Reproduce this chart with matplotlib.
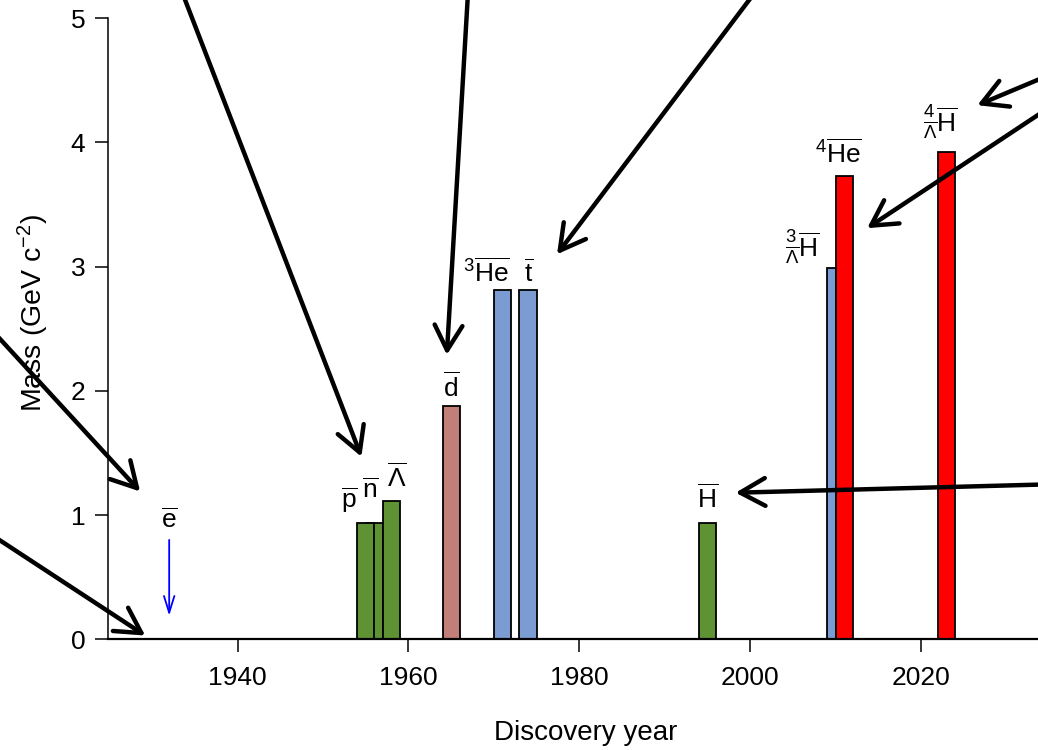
import numpy as np
import matplotlib
matplotlib.use("Agg")
import matplotlib.pyplot as plt

plt.rcParams['font.family'] = ['Liberation Sans', 'DejaVu Sans']
plt.rcParams['mathtext.fontset'] = 'custom'
plt.rcParams['mathtext.rm'] = 'Liberation Sans'
plt.rcParams['mathtext.it'] = 'Liberation Sans:italic'
plt.rcParams['mathtext.bf'] = 'Liberation Sans:bold'

# antiparticles, in drawing order
names = ['e', 'n', 'p', 'Lambda', 'd', 'He3', 't', 'H', 'H3L', 'He4', 'H4L']
years = [1932, 1956, 1955, 1958, 1965, 1971, 1974, 1995, 2010, 2011, 2023]
masses = [0.000511, 0.9396, 0.9383, 1.1157, 1.8756, 2.8084, 2.8089, 0.9389, 2.991, 3.7274, 3.922]
colors = ['#000080', '#5e9232', '#5e9232', '#5e9232', '#c27f7a', '#7b9cd3', '#7b9cd3',
          '#5e9232', '#7b9cd3', '#ff0000', '#ff0000']
edges = ['#000080'] + ['black'] * 10

labels = [r'$\overline{\mathrm{e}}$', r'$\overline{\mathrm{n}}$', r'$\overline{\mathrm{p}}$',
          r'$\overline{\Lambda}$', r'$\overline{\mathrm{d}}$', r'$^{3}\overline{\mathrm{He}}$',
          r'$\overline{\mathrm{t}}$', r'$\overline{\mathrm{H}}$',
          r'$^{3}_{\overline{\Lambda}}\overline{\mathrm{H}}$', r'$^{4}\overline{\mathrm{He}}$',
          r'$^{4}_{\overline{\Lambda}}\overline{\mathrm{H}}$']
label_x = [1932.0, 1955.6, 1953.1, 1958.7, 1965.0, 1969.1, 1974.1, 1995.0, 2006.1, 2010.3, 2022.3]
label_y = [0.896, 1.138, 1.057, 1.226, 1.951, 2.877, 2.877, 1.057, 3.078, 3.835, 4.085]

# black arrows coming in from the panels around the chart (tail -> tip, data coords)
arrow_tail = [(1909.9, 2.59), (1909.9, 0.90), (1933.4, 5.23), (1967.0, 5.23),
              (2000.8, 5.23), (2036.3, 4.58), (2036.3, 4.34), (2036.3, 1.25)]
arrow_tip = [(1928.6, 1.19), (1929.2, 0.03), (1954.5, 1.47), (1964.5, 2.29),
             (1977.4, 3.10), (2026.6, 4.30), (2013.7, 3.31), (1998.3, 1.18)]

fig = plt.figure(figsize=(10.38, 7.5), dpi=100)
ax = fig.add_axes([0.1043, 0.1476, 0.8957, 0.8524])

ax.bar(years, masses, width=2, color=colors, edgecolor=edges, linewidth=1.3, zorder=2)

for x, y, s in zip(label_x, label_y, labels):
    ax.text(x, y, s, ha='center', va='baseline', fontsize=19, zorder=3)

# electron mass too small to see: blue pointer
ax.annotate('', xy=(1932.0, 0.19), xytext=(1932.0, 0.80),
            arrowprops=dict(arrowstyle='->,head_length=0.8,head_width=0.25', color='blue',
                            lw=1.3, shrinkA=0, shrinkB=0, mutation_scale=15))

for (x0, y0), (x1, y1) in zip(arrow_tail, arrow_tip):
    ax.annotate('', xy=(x1, y1), xytext=(x0, y0), annotation_clip=False, zorder=5,
                arrowprops=dict(arrowstyle='->,head_length=0.9,head_width=0.5', color='black',
                                lw=3.2, shrinkA=0, shrinkB=0, mutation_scale=20))

ax.set_xlim(1924.87, 2033.7)
ax.set_ylim(0, 5.147)
ax.set_xticks([1940, 1960, 1980, 2000, 2020])
ax.set_yticks([0, 1, 2, 3, 4, 5])

for side in ['top', 'right']:
    ax.spines[side].set_visible(False)
ax.spines['left'].set_bounds(0, 5)
ax.spines['left'].set_linewidth(1.1)
ax.spines['bottom'].set_linewidth(1.6)
ax.tick_params(axis='both', length=9.5, width=1.1, labelsize=19)
ax.tick_params(axis='x', pad=10)
ax.tick_params(axis='y', pad=7)

ax.set_xlabel('Discovery year', fontsize=20)
ax.set_ylabel('Mass (GeV c$^{-2}$)', fontsize=20.5)
ax.xaxis.set_label_coords(0.513, -0.127)
ax.yaxis.set_label_coords(-0.062, 0.51)

fig.savefig('out.png', dpi=100)
